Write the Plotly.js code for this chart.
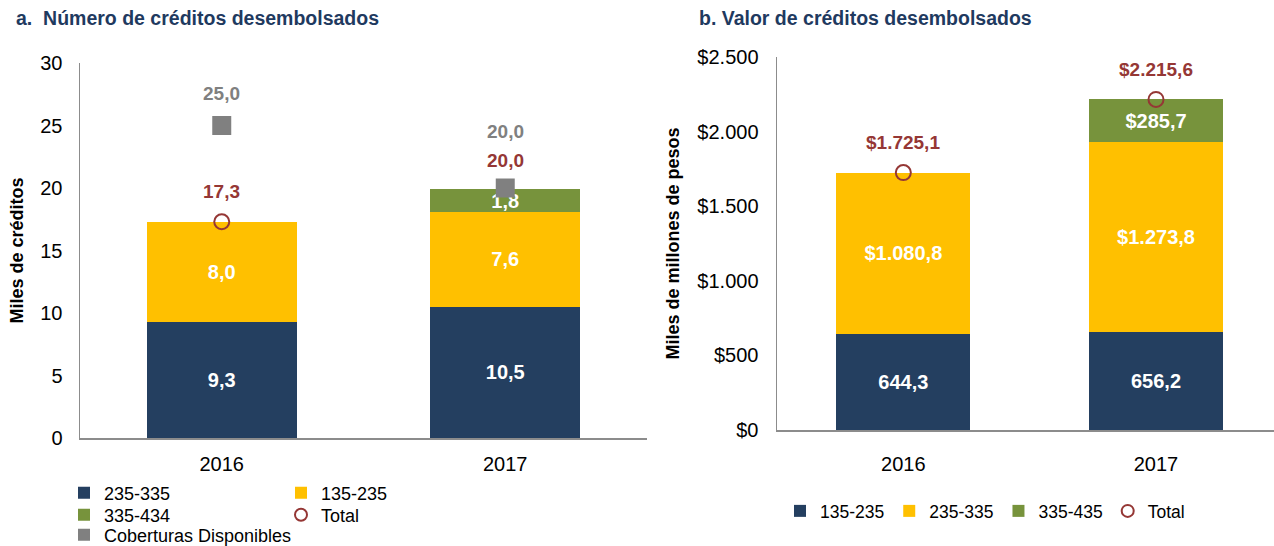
<!DOCTYPE html>
<html><head><meta charset="utf-8">
<script src="https://cdn.plot.ly/plotly-3.0.1.min.js"></script>
<style>html,body{margin:0;padding:0;background:#fff;}</style>
</head><body><div id="chart" style="width:1274px;height:546px;"></div>
<script>
// ---------- data ----------
const years = ['2016', '2017'];
// Panel a: Número de créditos desembolsados (miles)
const a_235_335 = [9.3, 10.5];
const a_135_235 = [8.0, 7.6];
const a_335_434 = [null, 1.8];
const a_total = [17.3, 20.0];
const a_coberturas = [25.0, 20.0];
// Panel b: Valor de créditos desembolsados (miles de millones)
const b_135_235 = [644.3, 656.2];
const b_235_335 = [1080.8, 1273.8];
const b_335_435 = [null, 285.7];
const b_total = [1725.1, 2215.6];
const aTicks = [0, 5, 10, 15, 20, 25, 30];
const bTicks = [0, 500, 1000, 1500, 2000, 2500];

// ---------- style ----------
const FONT = 'Liberation Sans, Arial, sans-serif';
const NAVY = '#243F60', YELLOW = '#FFC000', GREEN = '#77933C', GRAY = '#808080', RED = '#953735';
const TITLE_COLOR = '#1F3A5F';
const AXIS_COLOR = '#8C8C8C';
const aTotalShift = [30, 28];
const aCobShift = [32, 57];
const bTotalShift = [30, 30];
const W = 1274, H = 546;

function thousands(s) { return s.replace(/\B(?=(\d{3})+(?!\d))/g, '.'); }
function fmt(v, dollar) {
  const s = v.toFixed(1).split('.');
  return (dollar ? '$' : '') + thousands(s[0]) + ',' + s[1];
}

const inText = {family: FONT, size: 20, color: '#FFFFFF', weight: 'bold'};
function barTrace(name, y, color, xa, ya, legend, tmpl) {
  return {
    type: 'bar', name: name, x: years, y: y, xaxis: xa, yaxis: ya, legend: legend,
    marker: {color: color, line: {width: 0}},
    texttemplate: tmpl, textposition: 'inside', insidetextanchor: 'middle',
    constraintext: 'none', textangle: 0, textfont: inText,
    hoverinfo: 'skip'
  };
}

const traces = [
  barTrace('235-335', a_235_335, NAVY, 'x', 'y', 'legend', '%{y:.1f}'),
  barTrace('135-235', a_135_235, YELLOW, 'x', 'y', 'legend', '%{y:.1f}'),
  barTrace('335-434', a_335_434, GREEN, 'x', 'y', 'legend2', '%{y:.1f}'),
  {type: 'scatter', mode: 'markers', name: 'Total', x: years, y: a_total, xaxis: 'x', yaxis: 'y', legend: 'legend2',
   marker: {symbol: 'circle-open', size: 15, color: RED, line: {width: 2, color: RED}}, hoverinfo: 'skip'},
  {type: 'scatter', mode: 'markers', name: 'Coberturas Disponibles', x: years, y: a_coberturas, xaxis: 'x', yaxis: 'y', legend: 'legend3',
   marker: {symbol: 'square', size: 19, color: GRAY}, hoverinfo: 'skip'},

  barTrace('135-235', b_135_235, NAVY, 'x2', 'y2', 'legend4', '%{y:,.1f}'),
  barTrace('235-335', b_235_335, YELLOW, 'x2', 'y2', 'legend4', '$%{y:,.1f}'),
  barTrace('335-435', b_335_435, GREEN, 'x2', 'y2', 'legend4', '$%{y:,.1f}'),
  {type: 'scatter', mode: 'markers', name: 'Total', x: years, y: b_total, xaxis: 'x2', yaxis: 'y2', legend: 'legend4',
   marker: {symbol: 'circle-open', size: 15, color: RED, line: {width: 2, color: RED}}, hoverinfo: 'skip'}
];

const annotations = [
  {xref: 'paper', yref: 'paper', x: 14 / W, y: 1 - 18 / H, xanchor: 'left', yanchor: 'middle', showarrow: false,
   text: 'a.\u00a0 Número de créditos desembolsados', font: {family: FONT, size: 19.5, weight: 'bold', color: TITLE_COLOR}},
  {xref: 'paper', yref: 'paper', x: 697 / W, y: 1 - 18 / H, xanchor: 'left', yanchor: 'middle', showarrow: false,
   text: 'b. Valor de créditos desembolsados', font: {family: FONT, size: 19.5, weight: 'bold', color: TITLE_COLOR}}
];
const lblFont = (c) => ({family: FONT, size: 19, weight: 'bold', color: c});
years.forEach((yr, i) => {
  annotations.push({xref: 'x', yref: 'y', x: i, y: a_total[i], yshift: aTotalShift[i], showarrow: false,
    text: fmt(a_total[i], false), font: lblFont(RED)});
  annotations.push({xref: 'x', yref: 'y', x: i, y: a_coberturas[i], yshift: aCobShift[i], showarrow: false,
    text: fmt(a_coberturas[i], false), font: lblFont(GRAY)});
  annotations.push({xref: 'x2', yref: 'y2', x: i, y: b_total[i], yshift: bTotalShift[i], showarrow: false,
    text: fmt(b_total[i], true), font: lblFont(RED)});
});

const tickFont = {family: FONT, size: 20, color: '#000'};
const axTitleFont = {family: FONT, size: 18, weight: 'bold', color: '#000'};
const baseX = {type: 'category', showline: true, linecolor: AXIS_COLOR, linewidth: 1.5, ticks: '', showgrid: false,
  zeroline: false, tickfont: tickFont, fixedrange: true};
const baseY = {showline: true, linecolor: AXIS_COLOR, linewidth: 1.5, ticks: '', showgrid: false, zeroline: false,
  tickfont: tickFont, fixedrange: true};
const legBase = {orientation: 'h', xanchor: 'left', yanchor: 'middle', font: {family: FONT, size: 18, color: '#000'},
  bgcolor: 'rgba(0,0,0,0)', itemclick: false, itemdoubleclick: false, itemsizing: 'constant', tracegroupgap: 0,
  traceorder: 'normal', entrywidthmode: 'pixels'};

const layout = {
  width: W, height: H,
  margin: {l: 0, r: 0, t: 0, b: 0, autoexpand: false},
  paper_bgcolor: '#fff', plot_bgcolor: '#fff',
  font: {family: FONT, color: '#000'},
  separators: ',.',
  barmode: 'stack', bargap: 0.47,
  showlegend: true,
  xaxis: Object.assign({}, baseX, {domain: [80 / W, 647 / W], anchor: 'y', range: [-0.5, 1.5], ticklabelstandoff: 7}),
  yaxis: Object.assign({}, baseY, {domain: [1 - 438 / H, 1 - 63 / H], anchor: 'x', range: [0, 30], tickvals: aTicks,
    ticklabelstandoff: 12, title: {text: 'Miles de créditos', font: axTitleFont, standoff: 12}}),
  xaxis2: Object.assign({}, baseX, {domain: [777 / W, 1], anchor: 'y2', range: [-0.5, 1.467], ticklabelstandoff: 15}),
  yaxis2: Object.assign({}, baseY, {domain: [1 - 430 / H, 1 - 57 / H], anchor: 'x2', range: [0, 2500], tickvals: bTicks,
    ticktext: bTicks.map(v => '$' + thousands(String(v))), ticklabelstandoff: 13,
    title: {text: 'Miles de millones de pesos', font: axTitleFont, standoff: 13}}),
  legend: Object.assign({}, legBase, {x: 64 / W, y: 1 - 493 / H, entrywidth: 172}),
  legend2: Object.assign({}, legBase, {x: 64 / W, y: 1 - 515 / H, entrywidth: 172}),
  legend3: Object.assign({}, legBase, {x: 64 / W, y: 1 - 535 / H, entrywidth: 0}),
  legend4: Object.assign({}, legBase, {x: 780 / W, y: 1 - 511 / H, entrywidth: 0, font: {family: FONT, size: 17.5, color: '#000'}}),
  annotations: annotations
};

Plotly.newPlot('chart', traces, layout, {displayModeBar: false, staticPlot: true});
</script>
</body></html>
